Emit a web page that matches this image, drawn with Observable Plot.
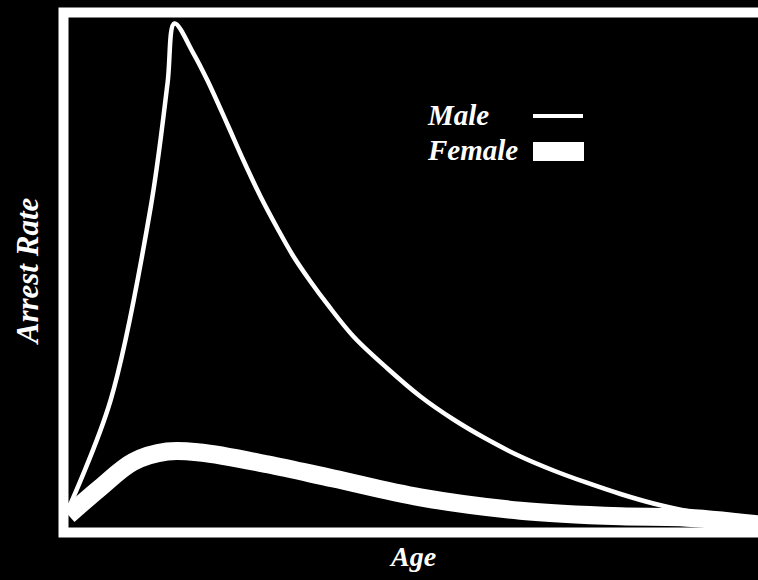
<!DOCTYPE html>
<html><head><meta charset="utf-8">
<script src="https://cdn.jsdelivr.net/npm/d3@7"></script>
<script src="https://cdn.jsdelivr.net/npm/@observablehq/plot@0.6"></script>
<style>
html,body{margin:0;padding:0;background:#000;overflow:hidden;}
#wrap{position:relative;width:758px;height:580px;overflow:hidden;}
</style></head><body><div id="wrap"></div>
<script>
// Values (arbitrary units: age 0-100 across, rate 0-100 up)
const maleAge  = [0, 6.09, 11.88, 14.35, 15.36, 18.12, 20.14, 23.04, 25.36, 27.83, 30.29, 32.61, 35.07, 37.54, 41.30, 46.23, 51.01, 55.80, 60.72, 65.51, 70.29, 75.22, 80.0, 84.78, 91.59, 100];
const maleRate = [3.73, 24.90, 62.55, 87.06, 98.82, 92.94, 87.65, 79.02, 71.96, 64.90, 58.63, 53.14, 48.24, 43.73, 37.45, 31.18, 25.69, 21.18, 17.25, 13.92, 11.18, 8.73, 6.57, 4.71, 2.75, 1.57];
const femaleAge  = [0, 4.6, 9.4, 14.3, 19.1, 28.8, 38.4, 51.0, 65.5, 80.0, 88.7, 100];
const femaleRate = [2.4, 7.8, 12.9, 14.9, 14.7, 12.4, 9.6, 5.9, 3.3, 2.2, 2.0, 0.6];
const seriesNames = ["Male", "Female"];
const xLabel = "Age";
const yLabel = "Arrest Rate";

const male = maleAge.map((a, i) => ({age: a, rate: maleRate[i]}));
const female = femaleAge.map((a, i) => ({age: a, rate: femaleRate[i]}));

const font = "'Liberation Serif', 'DejaVu Serif', serif";
const textStyle = {fill: "#fff", fontFamily: font, fontWeight: "bold", fontStyle: "italic"};

const chart = Plot.plot({
  width: 758, height: 580,
  marginLeft: 68, marginTop: 17, marginRight: 0, marginBottom: 53,
  style: {background: "#000", color: "#fff", overflow: "hidden"},
  x: {domain: [0, 100], axis: null},
  y: {domain: [0, 100], axis: null},
  marks: [
    Plot.line(female, {x: "age", y: "rate", stroke: "#fff", strokeWidth: 18, curve: "catmull-rom", strokeLinecap: "butt"}),
    Plot.line(male, {x: "age", y: "rate", stroke: "#fff", strokeWidth: 4.5, curve: "catmull-rom", strokeLinejoin: "round", strokeLinecap: "round"}),
    Plot.frame({stroke: "#fff", strokeWidth: 10, insetLeft: -5, insetTop: -5, insetBottom: -5, insetRight: -30}),
    Plot.text([xLabel], {text: d => d, frameAnchor: "bottom", lineAnchor: "bottom", textAnchor: "middle", dy: 38, fontSize: 28, ...textStyle}),
    Plot.text([yLabel], {text: d => d, frameAnchor: "left", lineAnchor: "bottom", textAnchor: "middle", rotate: -90, dx: -31, dy: -2, fontSize: 31, ...textStyle})
  ]
});
document.getElementById("wrap").appendChild(chart);

// Legend drawn inside the chart area
const svg = d3.select(chart);
const leg = svg.append("g").attr("text-anchor", "start");
const addText = (t, y) => leg.append("text").attr("x", 428).attr("y", y).text(t)
  .attr("fill", "#fff").attr("font-family", font).attr("font-weight", "bold")
  .attr("font-style", "italic").attr("font-size", 29).attr("text-anchor", "start");
addText(seriesNames[0], 125);
addText(seriesNames[1], 160);
leg.append("rect").attr("x", 533).attr("y", 114).attr("width", 50).attr("height", 4).attr("fill", "#fff");
leg.append("rect").attr("x", 533).attr("y", 142).attr("width", 51).attr("height", 19).attr("fill", "#fff");
</script>
</body></html>
